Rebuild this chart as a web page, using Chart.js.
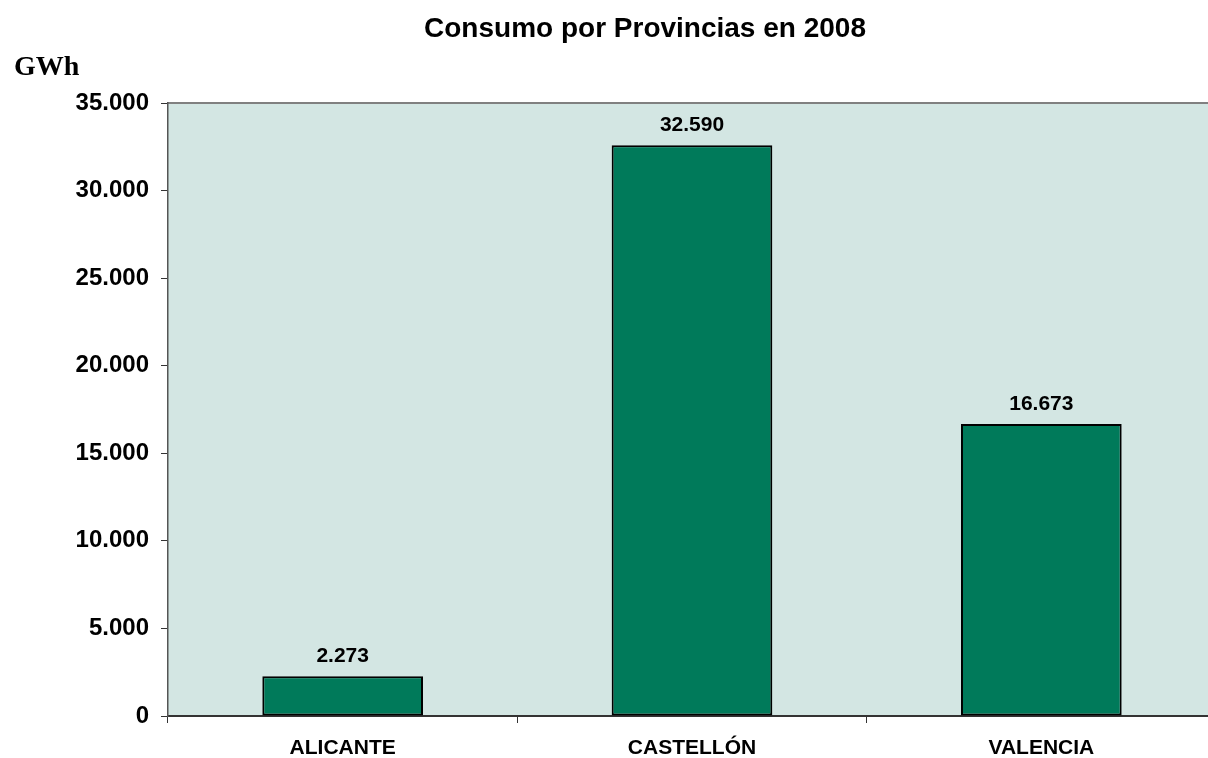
<!DOCTYPE html>
<html>
<head>
<meta charset="utf-8">
<script src="https://cdn.jsdelivr.net/npm/chart.js@4/dist/chart.umd.min.js"></script>
<style>
html, body { margin: 0; padding: 0; background: #fff; overflow: hidden; }
#wrap { width: 1222px; height: 758px; }
</style>
</head>
<body>
<div id="wrap"><canvas id="chart" width="1222" height="758"></canvas></div>
<script>
// data
const provincias = ["ALICANTE", "CASTELLÓN", "VALENCIA"];
const consumo = [2273, 32590, 16673];
const yTicks = [0, 5000, 10000, 15000, 20000, 25000, 30000, 35000];

function fmt(v) {
    return String(v).replace(/\B(?=(\d{3})+(?!\d))/g, ".");
}

// background + top border + texts
const decor = {
    id: "decor",
    beforeDraw(chart) {
        const { ctx, chartArea: a } = chart;
        ctx.save();
        ctx.fillStyle = "#d3e6e3";
        ctx.fillRect(a.left, a.top, a.right - a.left, a.bottom - a.top);
        ctx.strokeStyle = "#808080";
        ctx.lineWidth = 2;
        ctx.beginPath();
        ctx.moveTo(a.left, a.top);
        ctx.lineTo(a.right, a.top);
        ctx.stroke();
        ctx.restore();
    },
    afterDraw(chart) {
        const ctx = chart.ctx;
        ctx.save();
        ctx.fillStyle = "#000";
        ctx.textBaseline = "alphabetic";
        ctx.textAlign = "center";
        ctx.font = "bold 28px 'Liberation Sans', Arial, sans-serif";
        ctx.fillText("Consumo por Provincias en 2008", 645, 37);
        ctx.textAlign = "left";
        ctx.font = "bold 28px 'Liberation Serif', 'Times New Roman', serif";
        ctx.fillText("GWh", 14, 75);
        ctx.restore();
    },
    afterDatasetsDraw(chart) {
        const ctx = chart.ctx;
        const meta = chart.getDatasetMeta(0);
        ctx.save();
        ctx.fillStyle = "#000";
        ctx.textAlign = "center";
        ctx.textBaseline = "alphabetic";
        ctx.font = "bold 21px 'Liberation Sans', Arial, sans-serif";
        meta.data.forEach((bar, i) => {
            ctx.fillText(fmt(consumo[i]), bar.x, bar.y - 14);
        });
        ctx.restore();
    }
};

new Chart(document.getElementById("chart"), {
    type: "bar",
    data: {
        labels: provincias,
        datasets: [{
            data: consumo,
            backgroundColor: "#007a5a",
            borderColor: "#000",
            borderWidth: 2,
            borderSkipped: false,
            barPercentage: 0.46,
            categoryPercentage: 1
        }]
    },
    options: {
        responsive: false,
        animation: false,
        layout: { padding: { top: 103, right: 6, left: 0, bottom: 0 } },
        plugins: {
            legend: { display: false },
            title: { display: false },
            tooltip: { enabled: false }
        },
        scales: {
            x: {
                grid: { drawOnChartArea: false, color: "#333", tickLength: 7, offset: true },
                border: { color: "#333", width: 2 },
                ticks: {
                    color: "#000",
                    padding: 13,
                    font: { family: "'Liberation Sans', Arial, sans-serif", size: 21, weight: "bold" }
                },
                afterFit(s) { s.height = 42; }
            },
            y: {
                min: 0,
                max: 35000,
                afterBuildTicks(s) { s.ticks = yTicks.map(v => ({ value: v })); },
                grid: { drawOnChartArea: false, color: "#333", tickLength: 7 },
                border: { color: "#555", width: 1.5 },
                ticks: {
                    color: "#000",
                    padding: 12,
                    font: { family: "'Liberation Sans', Arial, sans-serif", size: 24, weight: "bold" },
                    callback: v => fmt(v)
                },
                afterFit(s) { s.width = 168; }
            }
        }
    },
    plugins: [decor]
});
</script>
</body>
</html>
